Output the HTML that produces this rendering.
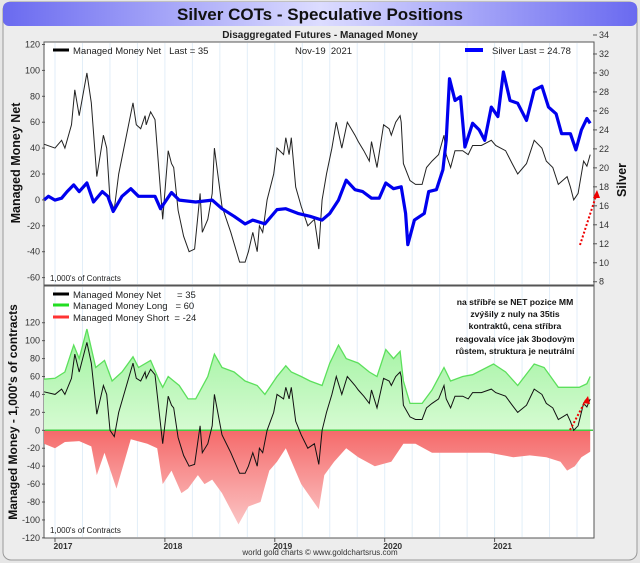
<!DOCTYPE html>
<html><head><meta charset="utf-8"><style>
html,body{margin:0;padding:0;background:#e6e6e6;}
svg{display:block;font-family:"Liberation Sans","DejaVu Sans",sans-serif;}
</style></head><body>
<svg id="chart" width="640" height="563" viewBox="0 0 640 563">
<defs>
<linearGradient id="tg" x1="0" x2="1" y1="0" y2="0">
<stop offset="0" stop-color="#6a6af0"/><stop offset="0.5" stop-color="#dcdcff"/><stop offset="1" stop-color="#6a6af0"/>
</linearGradient>
<linearGradient id="gg" x1="0" x2="0" y1="0" y2="1"><stop offset="0" stop-color="#9ef29e"/><stop offset="1" stop-color="#d6fbd2"/></linearGradient>
<linearGradient id="rg" x1="0" x2="0" y1="0" y2="1"><stop offset="0" stop-color="#f56a6a"/><stop offset="1" stop-color="#fbc4c4"/></linearGradient>
</defs>
<rect x="3" y="2" width="634" height="558" rx="8" fill="#ededed" stroke="#999"/>
<rect x="3" y="2" width="634" height="24" rx="6" fill="url(#tg)"/>
<text x="320" y="20" text-anchor="middle" font-size="17" font-weight="bold" fill="#111">Silver COTs - Speculative Positions</text>
<text x="320" y="38" text-anchor="middle" font-size="10" font-weight="bold" fill="#222">Disaggregated Futures - Managed Money</text>
<rect x="44" y="42" width="550" height="243" fill="#fff" stroke="#555"/>
<rect x="44" y="286" width="550" height="252" fill="#fff" stroke="#555"/>
<g id="grid"></g>
<g id="topg"></g>
<g id="botg"></g>
<g id="axes" font-size="9" fill="#333"></g>
<text transform="translate(20,163) rotate(-90)" text-anchor="middle" font-size="12.5" font-weight="bold" fill="#111">Managed Money Net</text>
<text transform="translate(626,180) rotate(-90)" text-anchor="middle" font-size="12.5" font-weight="bold" fill="#111">Silver</text>
<text transform="translate(17,412) rotate(-90)" text-anchor="middle" font-size="12" font-weight="bold" fill="#111">Managed Money - 1,000's of contracts</text>
<g font-size="9.5" fill="#222">
<line x1="53" y1="50" x2="69" y2="50" stroke="#000" stroke-width="3"/>
<text x="73" y="54" xml:space="preserve">Managed Money Net   Last = 35</text>
<text x="295" y="54" xml:space="preserve">Nov-19  2021</text>
<line x1="465" y1="50" x2="483" y2="50" stroke="#00f" stroke-width="4"/>
<text x="492" y="54">Silver Last = 24.78</text>
<text x="50" y="281" font-size="8">1,000's of Contracts</text>
<line x1="53" y1="294" x2="69" y2="294" stroke="#000" stroke-width="3"/>
<text x="73" y="298" xml:space="preserve">Managed Money Net      = 35</text>
<line x1="53" y1="305" x2="69" y2="305" stroke="#2d2" stroke-width="3"/>
<text x="73" y="309" xml:space="preserve">Managed Money Long   = 60</text>
<line x1="53" y1="317" x2="69" y2="317" stroke="#f33" stroke-width="3"/>
<text x="73" y="321" xml:space="preserve">Managed Money Short  = -24</text>
<text x="50" y="533" font-size="8">1,000's of Contracts</text>
</g>
<g font-size="8.6" font-weight="bold" fill="#111" text-anchor="middle">
<text x="515" y="305">na stříbře se NET pozice MM</text>
<text x="515" y="317">zvýšily z nuly na 35tis</text>
<text x="515" y="329">kontraktů, cena stříbra</text>
<text x="515" y="342">reagovala více jak 3bodovým</text>
<text x="515" y="354">růstem, struktura je neutrální</text>
</g>
<text x="320" y="555" text-anchor="middle" font-size="8" fill="#333">world gold charts © www.goldchartsrus.com</text>
<line x1="580" y1="245" x2="597" y2="193" stroke="#e00" stroke-width="2" stroke-dasharray="2,2"/>
<polygon points="597,190 593,198 600,198" fill="#e00"/>
<line x1="570" y1="430" x2="586" y2="400" stroke="#e00" stroke-width="2" stroke-dasharray="2,2"/>
<polygon points="588,396 583,403 590,404" fill="#e00"/>
</svg>
<script>
const netDates=[2016.90,2017.00,2017.06,2017.09,2017.15,2017.18,2017.22,2017.29,2017.33,2017.38,2017.44,2017.47,2017.50,2017.54,2017.58,2017.71,2017.74,2017.78,2017.82,2017.83,2017.87,2017.91,2017.98,2018.03,2018.06,2018.08,2018.12,2018.17,2018.22,2018.27,2018.32,2018.34,2018.39,2018.43,2018.45,2018.52,2018.60,2018.68,2018.73,2018.76,2018.80,2018.84,2018.86,2018.89,2018.93,2018.99,2019.02,2019.08,2019.10,2019.13,2019.15,2019.19,2019.24,2019.30,2019.36,2019.40,2019.43,2019.47,2019.52,2019.56,2019.61,2019.66,2019.73,2019.76,2019.81,2019.86,2019.88,2019.93,2019.99,2020.04,2020.06,2020.10,2020.14,2020.15,2020.17,2020.23,2020.28,2020.34,2020.38,2020.43,2020.49,2020.54,2020.56,2020.60,2020.64,2020.71,2020.76,2020.80,2020.88,2020.97,2021.01,2021.10,2021.16,2021.21,2021.29,2021.36,2021.43,2021.47,2021.53,2021.58,2021.66,2021.69,2021.72,2021.76,2021.81,2021.84,2021.87];
const netValues=[43,40,46,40,58,85,65,98,75,18,50,40,0,-7,20,75,58,55,65,58,68,62,-15,38,28,25,-8,-28,-40,-38,5,-25,-15,5,40,-5,-25,-48,-48,-40,-25,-40,-20,-25,0,20,40,35,48,35,48,10,-5,-20,-15,-38,0,20,40,60,40,60,50,45,38,30,45,25,58,55,50,60,65,60,28,15,12,12,25,30,35,50,35,25,38,38,35,42,42,46,42,38,28,20,28,46,40,30,25,12,18,10,0,5,30,26,35];
const longDates=[2016.90,2017.00,2017.09,2017.17,2017.22,2017.29,2017.37,2017.45,2017.52,2017.61,2017.71,2017.76,2017.87,2017.95,2017.98,2018.03,2018.13,2018.21,2018.28,2018.39,2018.45,2018.52,2018.63,2018.73,2018.84,2018.91,2019.02,2019.10,2019.15,2019.24,2019.32,2019.43,2019.50,2019.58,2019.65,2019.76,2019.86,2019.93,2020.01,2020.08,2020.14,2020.17,2020.23,2020.34,2020.43,2020.54,2020.60,2020.71,2020.80,2020.99,2021.10,2021.21,2021.36,2021.45,2021.51,2021.58,2021.69,2021.77,2021.84,2021.87];
const longValues=[57,58,65,95,80,113,70,78,55,65,82,70,78,55,48,60,50,35,35,60,85,70,65,55,50,40,60,72,65,60,55,50,75,95,80,75,65,60,90,80,88,55,30,30,45,70,55,60,62,74,65,50,74,70,60,48,48,48,52,60];
const shortDates=[2016.90,2017.00,2017.09,2017.22,2017.33,2017.38,2017.45,2017.56,2017.69,2017.84,2017.93,2017.98,2018.06,2018.15,2018.21,2018.30,2018.36,2018.43,2018.52,2018.67,2018.76,2018.87,2018.95,2019.02,2019.10,2019.24,2019.40,2019.45,2019.54,2019.65,2019.76,2019.91,2020.06,2020.17,2020.28,2020.43,2020.58,2020.77,2020.95,2021.17,2021.32,2021.47,2021.60,2021.66,2021.73,2021.79,2021.87];
const shortValues=[-15,-20,-13,-12,-18,-50,-25,-65,-10,-15,-20,-60,-45,-70,-65,-50,-60,-55,-70,-105,-85,-80,-45,-35,-20,-60,-88,-50,-35,-20,-30,-40,-35,-15,-15,-25,-25,-25,-25,-30,-28,-30,-35,-45,-40,-30,-24];
const priceDates=[2016.90,2016.94,2017.00,2017.06,2017.11,2017.17,2017.22,2017.29,2017.35,2017.43,2017.48,2017.53,2017.61,2017.69,2017.76,2017.91,2017.96,2018.06,2018.13,2018.28,2018.43,2018.52,2018.63,2018.73,2018.80,2018.91,2019.02,2019.10,2019.21,2019.32,2019.43,2019.50,2019.58,2019.65,2019.73,2019.80,2019.88,2019.95,2020.01,2020.08,2020.15,2020.19,2020.21,2020.27,2020.36,2020.40,2020.47,2020.53,2020.56,2020.59,2020.64,2020.69,2020.73,2020.80,2020.86,2020.91,2020.97,2021.03,2021.08,2021.14,2021.21,2021.29,2021.36,2021.43,2021.49,2021.56,2021.61,2021.69,2021.74,2021.79,2021.84,2021.87];
const priceValues=[16.6,17.0,16.6,16.8,17.5,18.2,17.5,18.4,16.4,17.5,17.0,15.4,17.0,17.8,17.0,17.0,15.7,17.4,16.6,16.4,16.6,15.7,14.9,14.1,14.5,14.1,15.6,15.7,15.2,14.9,14.5,15.2,16.6,18.7,17.7,17.5,16.8,16.8,18.4,17.8,18.0,15.2,11.9,14.5,15.2,17.5,17.7,19.8,22.9,29.4,27.1,27.5,22.2,24.7,24.0,22.9,26.4,25.4,30.1,27.1,26.8,25.0,28.2,28.6,26.4,25.7,23.6,23.6,21.9,24.0,25.2,24.7];
const topLeftTicks=[120,100,80,60,40,20,0,-20,-40,-60];
const priceTicks=[34,32,30,28,26,24,22,20,18,16,14,12,10,8];
const bottomTicks=[120,100,80,60,40,20,0,-20,-40,-60,-80,-100,-120];
const yearTicks=[2017,2018,2019,2020,2021];

const NS="http://www.w3.org/2000/svg";
const xS=d=>55+(d-2017)*109.9;
const yTop=v=>199.9-v*1.295;
const yPrice=p=>35+(34-p)*9.49;
const yBot=v=>430.3-v*0.8965;
function mk(tag,attrs,parent){const e=document.createElementNS(NS,tag);for(const k in attrs)e.setAttribute(k,attrs[k]);parent.appendChild(e);return e;}
function pts(ds,vs,fy){return ds.map((d,i)=>xS(d).toFixed(1)+","+fy(vs[i]).toFixed(1)).join(" ");}
const gridG=document.getElementById('grid'),topG=document.getElementById('topg'),botG=document.getElementById('botg'),axesG=document.getElementById('axes');
for(let q=2016.75;q<=2022;q+=0.25){const x=xS(q);if(x<45||x>593)continue;
 const l1=mk('line',{x1:x,y1:43,x2:x,y2:284,stroke:'#e2eef8','stroke-width':1},gridG);
 
 
 const l2=mk('line',{x1:x,y1:287,x2:x,y2:537,stroke:'#e2eef8','stroke-width':1},gridG);
 
 }
const z=yBot(0);
const ga=mk('polygon',{points:xS(longDates[0])+","+z+" "+pts(longDates,longValues,yBot)+" "+xS(longDates[longDates.length-1])+","+z,fill:'url(#gg)'},botG);


const gl=mk('polyline',{points:pts(longDates,longValues,yBot),fill:'none',stroke:'#5ce05c','stroke-width':1.3},botG);


const ra=mk('polygon',{points:xS(shortDates[0])+","+z+" "+pts(shortDates,shortValues,yBot)+" "+xS(shortDates[shortDates.length-1])+","+z,fill:'url(#rg)'},botG);


const zl=mk('line',{x1:45,y1:z,x2:593,y2:z,stroke:'#4c4',"stroke-width":1.5},botG);


const nb=mk('polyline',{points:pts(netDates,netValues,yBot),fill:'none',stroke:'#111','stroke-width':1},botG);


const nt=mk('polyline',{points:pts(netDates,netValues,yTop),fill:'none',stroke:'#222','stroke-width':1},topG);


const pl=mk('polyline',{points:pts(priceDates,priceValues,yPrice),fill:'none',stroke:'#0000ee','stroke-width':3.2,'stroke-linejoin':'round'},topG);


topLeftTicks.forEach(v=>{const y=yTop(v);
 const t=mk('text',{x:40,y:y+3,'text-anchor':'end'},axesG);t.textContent=v;
 
 
 mk('line',{x1:42,y1:y,x2:45,y2:y,stroke:'#555'},axesG);});
priceTicks.forEach(v=>{const y=yPrice(v);
 const t=mk('text',{x:599,y:y+3},axesG);t.textContent=v;
 
 
 mk('line',{x1:593,y1:y,x2:597,y2:y,stroke:'#555'},axesG);});
bottomTicks.forEach(v=>{const y=yBot(v);
 const t=mk('text',{x:40,y:y+3,'text-anchor':'end'},axesG);t.textContent=v;
 
 
 mk('line',{x1:42,y1:y,x2:45,y2:y,stroke:'#555'},axesG);});
yearTicks.forEach(v=>{const x=xS(v);
 const t=mk('text',{x:x+8,y:549,'text-anchor':'middle','font-weight':'bold','font-size':8.5},axesG);t.textContent=v;
 
 
 mk('line',{x1:x,y1:538,x2:x,y2:542,stroke:'#555'},axesG);});
</script>
</body></html>
